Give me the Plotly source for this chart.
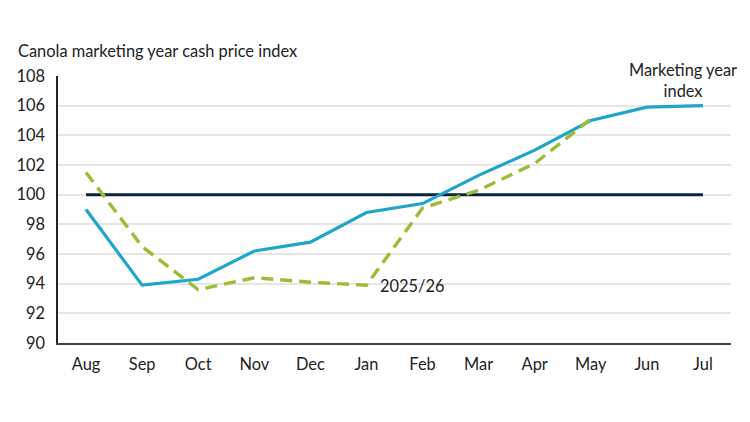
import plotly.graph_objects as go

months = ["Aug", "Sep", "Oct", "Nov", "Dec", "Jan", "Feb", "Mar", "Apr", "May", "Jun", "Jul"]
marketing_year_index = [99.0, 93.9, 94.3, 96.2, 96.8, 98.8, 99.4, 101.3, 103.0, 105.0, 105.9, 106.0]
current_year = [101.5, 96.5, 93.6, 94.4, 94.1, 93.9, 99.1, 100.3, 102.1, 105.1]
baseline = [100] * len(months)

FONT = "Lato"
FS = 16.4

fig = go.Figure()

# reference line at 100
fig.add_trace(go.Scatter(x=months, y=baseline, mode="lines",
                         line=dict(color="#0b2340", width=3), showlegend=False))
fig.add_trace(go.Scatter(x=months, y=marketing_year_index, mode="lines",
                         line=dict(color="#1ea5c9", width=3.2), showlegend=False))
fig.add_trace(go.Scatter(x=months[:len(current_year)], y=current_year, mode="lines",
                         line=dict(color="#9dbc35", width=3.4, dash="12px,7px"), showlegend=False))

fig.add_annotation(x="Jun", y=107.7, text="Marketing year<br>index", showarrow=False,
                   xshift=36, font=dict(family=FONT, size=FS, color="#222"), align="center")
fig.add_annotation(x="Jan", y=93.9, text="2025/26", showarrow=False, xanchor="left",
                   xshift=12, font=dict(family=FONT, size=FS, color="#222"))
fig.add_annotation(xref="paper", yref="paper", x=-0.062, y=1.097, xanchor="left", yanchor="middle",
                   text="Canola marketing year cash price index", showarrow=False,
                   font=dict(family=FONT, size=FS, color="#222"))

fig.update_xaxes(type="category", range=[-0.5, 11.5], showline=True, linecolor="#444",
                 linewidth=1.5, ticks="", showgrid=False, automargin=False,
                 ticklabelstandoff=6, tickfont=dict(family=FONT, size=FS, color="#222"))
fig.update_yaxes(range=[90, 108], dtick=2, showline=True, linecolor="#222", linewidth=1.5,
                 gridcolor="#e6e6e6", gridwidth=1.5, zeroline=False, automargin=False,
                 ticklabelstandoff=8, tickfont=dict(family=FONT, size=FS, color="#222"))

fig.update_layout(width=750, height=422, margin=dict(l=50, r=27, t=68, b=87),
                  plot_bgcolor="white", paper_bgcolor="white")

fig.write_html("out.html")
